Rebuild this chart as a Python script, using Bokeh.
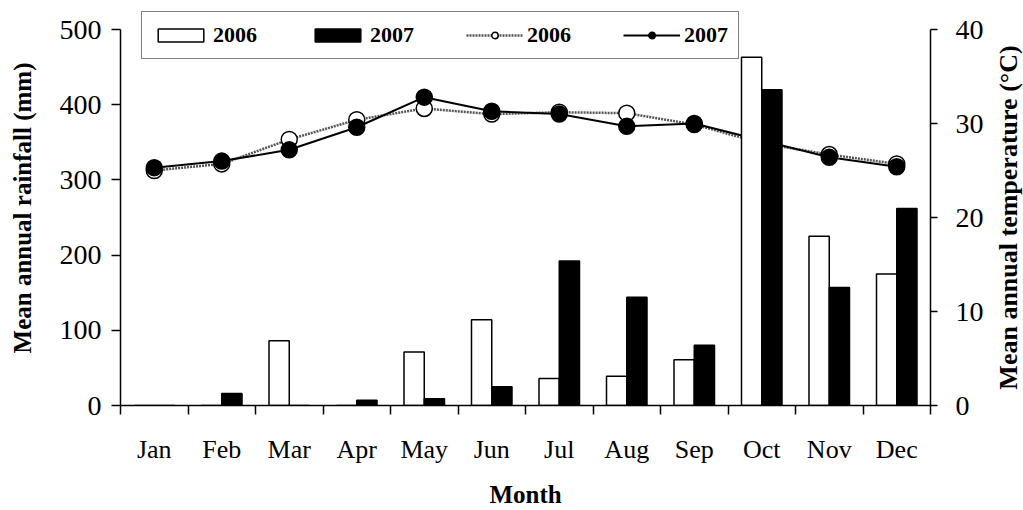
import numpy as np
from bokeh.plotting import figure
from bokeh.layouts import row
from bokeh.models import (ColumnDataSource, Range1d, LinearAxis, FixedTicker,
                          Legend, LegendItem)
from bokeh.core.properties import value
from bokeh.transform import dodge
from bokeh.embed import file_html
from bokeh.resources import INLINE

months = ["Jan", "Feb", "Mar", "Apr", "May", "Jun",
          "Jul", "Aug", "Sep", "Oct", "Nov", "Dec"]
rain_2006 = [0, 0, 86, 0, 71, 114, 36, 39, 61, 463, 225, 175]
rain_2007 = [0, 16, 0, 7, 9, 25, 192, 144, 80, 420, 157, 262]
temp_2006 = [25.0, 25.7, 28.3, 30.4, 31.6, 31.0, 31.2, 31.1, 29.9, 27.9, 26.7, 25.7]
temp_2007 = [25.3, 26.0, 27.2, 29.6, 32.8, 31.3, 31.0, 29.7, 30.0, 28.2, 26.4, 25.4]
rain_ticks = [0, 100, 200, 300, 400, 500]
temp_ticks = [0, 10, 20, 30, 40]
temp_label = "Mean annual temperature (°C)"

xpos = list(np.arange(len(months)) + 0.5)
src = ColumnDataSource(dict(x=xpos, r06=rain_2006, r07=rain_2007,
                            t06=temp_2006, t07=temp_2007))

FONT = "Liberation Serif"

# frame extends above the axis tops so the legend (which overlaps the top) is not clipped
FRAME_TOP = 10
AXIS_TOP = 29
AXIS_BOTTOM = 405
stretch = (AXIS_BOTTOM - FRAME_TOP) / (AXIS_BOTTOM - AXIS_TOP)
temp_range = Range1d(0, temp_ticks[-1] * stretch)

p = figure(width=993, height=510, output_backend="svg", toolbar_location=None,
           x_range=Range1d(0, len(months)),
           y_range=Range1d(0, rain_ticks[-1] * stretch),
           min_border_left=120, min_border_right=63, min_border_top=FRAME_TOP,
           min_border_bottom=100, x_axis_location=None, y_axis_location=None)
p.outline_line_color = None
p.xgrid.visible = False
p.ygrid.visible = False
p.extra_y_ranges = {"temp": temp_range}

# axes
xaxis = LinearAxis(ticker=FixedTicker(ticks=xpos, minor_ticks=list(range(len(months) + 1))),
                   axis_label="Month")
xaxis.major_label_overrides = {x: m for x, m in zip(xpos, months)}
xaxis.major_tick_out = 0
xaxis.major_tick_in = 0
xaxis.minor_tick_out = 9
xaxis.minor_tick_in = 0
xaxis.minor_tick_line_color = "black"
xaxis.minor_tick_line_width = 1.5
xaxis.axis_line_width = 1.5
xaxis.major_label_standoff = 20
xaxis.major_label_text_font = FONT
xaxis.major_label_text_font_size = "26px"
xaxis.major_label_text_color = "black"
xaxis.axis_label_text_font = FONT
xaxis.axis_label_text_font_style = "bold"
xaxis.axis_label_text_font_size = "25px"
xaxis.axis_label_text_color = "black"
xaxis.axis_label_standoff = 14
p.add_layout(xaxis, "below")

yaxis = LinearAxis(ticker=FixedTicker(ticks=rain_ticks), axis_label="Mean annual rainfall (mm)",
                   bounds=(rain_ticks[0], rain_ticks[-1]))
yaxis.major_tick_out = 9
yaxis.major_tick_in = 0
yaxis.minor_tick_out = 0
yaxis.minor_tick_in = 0
yaxis.axis_line_width = 1.5
yaxis.major_tick_line_width = 1.5
yaxis.major_label_standoff = 10
yaxis.major_label_text_font = FONT
yaxis.major_label_text_font_size = "28px"
yaxis.major_label_text_color = "black"
yaxis.axis_label_text_font = FONT
yaxis.axis_label_text_font_style = "bold"
yaxis.axis_label_text_font_size = "25px"
yaxis.axis_label_text_color = "black"
yaxis.axis_label_standoff = 21
p.add_layout(yaxis, "left")

raxis = LinearAxis(y_range_name="temp", ticker=FixedTicker(ticks=temp_ticks),
                   bounds=(temp_ticks[0], temp_ticks[-1]))
raxis.major_tick_out = 7
raxis.major_tick_in = 0
raxis.minor_tick_out = 0
raxis.minor_tick_in = 0
raxis.axis_line_width = 1.5
raxis.major_tick_line_width = 1.5
raxis.major_label_standoff = 18
raxis.major_label_text_font = FONT
raxis.major_label_text_font_size = "28px"
raxis.major_label_text_color = "black"
p.add_layout(raxis, "right")

# temperature lines (drawn below bars)
l06 = p.line("x", "t06", source=src, y_range_name="temp", line_color="#555555",
             line_width=2.5, line_dash="2 1")
s06 = p.scatter("x", "t06", source=src, y_range_name="temp", size=16,
                fill_color="white", line_color="black", line_width=1.5)
l07 = p.line("x", "t07", source=src, y_range_name="temp", line_color="black",
             line_width=2)
s07 = p.scatter("x", "t07", source=src, y_range_name="temp", size=16,
                fill_color="black", line_color="black", line_width=1.5)

# rainfall bars
b06 = p.vbar(x=dodge("x", -0.15), top="r06", width=0.3, source=src,
             fill_color="white", line_color="black", line_width=1.5)
b07 = p.vbar(x=dodge("x", 0.15), top="r07", width=0.3, source=src,
             fill_color="black", line_color="black", line_width=1.5)

legend = Legend(items=[LegendItem(label="2006", renderers=[b06]),
                       LegendItem(label="2007", renderers=[b07]),
                       LegendItem(label="2006", renderers=[l06, s06]),
                       LegendItem(label="2007", renderers=[l07, s07])],
                orientation="horizontal", location=(21, AXIS_BOTTOM - 59))
legend.label_text_font = FONT
legend.label_text_font_style = "bold"
legend.label_text_font_size = "22px"
legend.label_text_color = "black"
legend.glyph_width = 57
legend.glyph_height = 16
legend.label_standoff = 4
legend.spacing = 52
legend.padding = 10
legend.margin = 0
legend.border_line_color = "black"
legend.border_line_width = 1.5
legend.background_fill_alpha = 1
p.add_layout(legend, "center")

# right-hand axis title, reading bottom-to-top like the left one
p2 = figure(width=30, height=510, output_backend="svg", toolbar_location=None,
            x_range=Range1d(0, 1), y_range=temp_range,
            min_border_left=0, min_border_right=0, min_border_top=FRAME_TOP,
            min_border_bottom=510 - AXIS_BOTTOM, x_axis_location=None, y_axis_location=None)
p2.outline_line_color = None
p2.xgrid.visible = False
p2.ygrid.visible = False
p2.text(x=[0.5], y=[(temp_ticks[0] + temp_ticks[-1]) / 2], text=[temp_label],
        angle=np.pi / 2, text_align="center", text_baseline="middle",
        text_font=value(FONT), text_font_style="bold", text_font_size="26px",
        text_color="black")

layout = row(p, p2, spacing=0)
open("out.html", "w").write(file_html(layout, INLINE))
